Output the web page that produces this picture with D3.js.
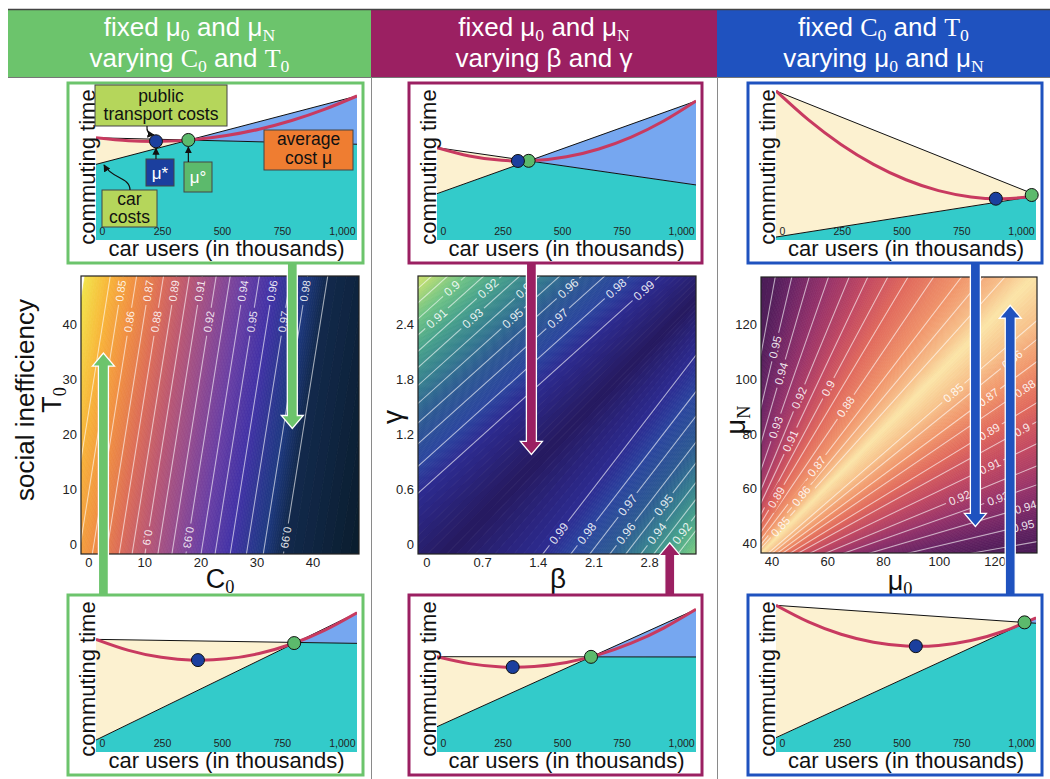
<!DOCTYPE html>
<html>
<head>
<meta charset="utf-8">
<script src="https://cdn.jsdelivr.net/npm/d3@7"></script>
<style>
  body { margin: 0; background: #fff; }
  text { font-family: "Liberation Sans", Arial, sans-serif; }
</style>
</head>
<body>
<div id="chart"></div>
<script>
// ---------- data ----------
var columnTitles = [
  ["fixed μ_0 and μ_N", "varying $C_0 and $T_0"],
  ["fixed μ_0 and μ_N", "varying β and γ"],
  ["fixed $C_0 and $T_0", "varying μ_0 and μ_N"]
];
var columnColors = ["#6cc46c", "#9b2062", "#1f52bf"];

// small "commuting time" panels: top row cols 1-3, then bottom row cols 1-3
var carUsers = [0, 136, 272, 408, 544, 680, 816, 952, 1088];   // thousands
var carTicks = [0, 250, 500, 750, 1000];
var publicCost = [[69.1, 64.7], [62.4, 37.2], [100.7, 30.4], [76.1, 73.4], [64.4, 64.2], [99.1, 87.0]];
var carCost = [[51.1, 97.3], [31.3, 93.9], [2.0, 29.7], [8.1, 94.1], [17.1, 96.4], [9.7, 90.7]];
var averageCost = [
  [69.1, 67.09, 66.66, 67.82, 70.55, 74.87, 80.76, 88.24, 97.3],
  [62.4, 56.73, 53.81, 53.64, 56.2, 61.51, 69.56, 80.36, 93.9],
  [100.7, 81.1, 64.58, 51.1, 40.7, 33.35, 29.08, 27.85, 29.7],
  [76.1, 68.65, 63.96, 62.06, 62.93, 66.56, 72.96, 82.15, 94.1],
  [64.4, 59.7, 57.49, 57.77, 60.53, 65.76, 73.49, 83.71, 96.4],
  [99.1, 87.86, 79.54, 74.13, 71.63, 72.03, 75.34, 81.57, 90.7]
];
var socialOptimum = [[250, 66.7], [340, 53.4], [920, 27.9], [425, 62.1], [318, 57.4], [585, 71.5]];
var userEquilibrium = [[385, 67.6], [385, 53.5], [1070, 30.4], [826, 73.6], [647, 64.3], [1040, 87.6]];

// heatmap 1: social inefficiency over (C0, T0); contour lines as C0 at T0=0 and T0=46
var c0T0Levels = [0.82, 0.84, 0.85, 0.86, 0.87, 0.88, 0.89, 0.90, 0.91, 0.92, 0.93, 0.94, 0.95, 0.96, 0.97, 0.98, 0.99, 1.00];
var c0AtT0Zero = [-8.0, -3.7, -1.4, 1.0, 3.5, 5.8, 8.1, 10.4, 12.7, 15.2, 17.7, 20.4, 22.9, 25.6, 28.5, 31.5, 35.1, 52.0];
var c0AtT0FortySix = [-1.0, 3.5, 5.8, 8.2, 10.7, 13.0, 15.3, 17.6, 19.9, 22.4, 24.9, 27.6, 30.1, 32.8, 35.7, 38.7, 42.3, 59.0];
var c0T0LabelAt = [[2, 46], [4, 46], [6, 46], [8, 46], [11, 46], [13, 46], [15, 46],
  [3, 40.4], [5, 40.4], [9, 40.4], [12, 40.4], [14, 40.4], [7, 1.2], [10, 1.2], [16, 1.2]];
var c0Ticks = [0, 10, 20, 30, 40], t0Ticks = [0, 10, 20, 30, 40];

// heatmap 2: (beta, gamma); contour lines as beta at gamma=0 and gamma=3
var betaGammaLevels = [0.86, 0.88, 0.89, 0.90, 0.91, 0.92, 0.93, 0.94, 0.95, 0.96, 0.97, 0.98, 0.99, 0.996,
  0.99, 0.98, 0.97, 0.96, 0.95, 0.94, 0.93, 0.92, 0.91, 0.89];
var betaAtGammaZero = [-4.102, -3.685, -3.484, -3.258, -3.031, -2.805, -2.578, -2.327, -2.075, -1.799, -1.509, -1.195, -0.817, 0.378,
  1.560, 1.912, 2.151, 2.403, 2.604, 2.793, 2.956, 3.107, 3.258, 3.535];
var betaAtGammaThree = [-0.260, 0.157, 0.358, 0.584, 0.811, 1.037, 1.264, 1.515, 1.767, 2.043, 2.333, 2.647, 3.025, 3.768,
  4.219, 4.571, 4.810, 5.062, 5.263, 5.452, 5.615, 5.766, 5.917, 6.194];
var betaGammaLabelAt = [[3, 2.795], [5, 2.795], [7, 2.795], [9, 2.795], [11, 2.795], [12, 2.773],
  [4, 2.467], [6, 2.467], [8, 2.467], [10, 2.467],
  [14, 0.117], [15, 0.117], [17, 0.117], [19, 0.117], [21, 0.117], [16, 0.426], [18, 0.426]];
var betaTicks = [0, 0.7, 1.4, 2.1, 2.8], gammaTicks = [0, 0.6, 1.2, 1.8, 2.4];

// heatmap 3: (mu0, muN); contour lines fan out from a common focus with slope muSlopes
var muFocus = [20, 20];
var muLevels = [0.97, 0.96, 0.95, 0.94, 0.93, 0.92, 0.91, 0.90, 0.89, 0.88, 0.87, 0.86, 0.85, 0.835,
  0.85, 0.86, 0.87, 0.88, 0.89, 0.90, 0.91, 0.92, 0.93, 0.94, 0.95, 0.96, 0.975];
var muSlopes = [0.08, 0.18, 0.24, 0.30, 0.36, 0.42, 0.49, 0.56, 0.62, 0.69, 0.75, 0.82, 0.88, 1.03,
  1.13, 1.22, 1.33, 1.50, 1.70, 1.90, 2.15, 2.45, 2.90, 3.50, 4.30, 5.50, 12.0];
var muLabelAt = [[2, 113.4], [3, 116], [4, 107.6], [5, 94.8], [6, 109.5], [7, 125.9], [8, 115.4], [9, 134.7],
  [10, 122.2], [11, 137.5], [12, 113.5], [14, 35], [15, 48.3], [16, 60.2], [17, 84], [18, 42.8], [19, 86.6],
  [20, 63.4], [21, 79], [22, 66], [23, 85.3], [24, 94.1]];
var mu0Ticks = [40, 60, 80, 100, 120], muNTicks = [40, 60, 80, 100, 120];

// parameter points shown in the small panels (arrows)
var topExample = [[36.4, 21.0], [1.32, 0.98], [113.1, 46.3]];
var bottomExample = [[2.7, 34.7], [3.06, 0.014], [125.6, 126.9]];

// colour ramps
var palette1Levels = [0.82, 0.84, 0.86, 0.88, 0.90, 0.92, 0.94, 0.96, 0.98, 0.99, 1.00];
var palette1Colors = ["#f2e34c", "#f8b53a", "#f08e42", "#db6c58", "#bb5872", "#954c8e", "#6a3fa4", "#4233a6", "#1f3a82", "#12294c", "#081a26"];
var palette2Levels = [0.86, 0.88, 0.90, 0.92, 0.94, 0.96, 0.98, 0.99, 0.996];
var palette2Colors = ["#e8e86c", "#b9dc74", "#6fc385", "#47a28b", "#357f8e", "#2c5a92", "#2b449e", "#2d2c92", "#26195e"];
var palette3Levels = [0.835, 0.85, 0.87, 0.89, 0.91, 0.93, 0.95, 0.97];
var palette3Colors = ["#fbe5a8", "#f7c08a", "#f0946a", "#e0685c", "#c24962", "#97336a", "#682465", "#3d1950"];

// ---------- layout ----------
var W = 1050, H = 779;
var SERIF = "'Liberation Serif', 'DejaVu Serif', serif";
var colLeft = [8, 371, 717], colRight = [371, 717, 1050];
var boxLeft = [68, 409, 748], boxRight = [363, 702, 1042];
var boxTop = [83, 595], boxH = 180;

var svg = d3.select("#chart").append("svg").attr("width", W).attr("height", H);
var defs = svg.append("defs");

function rich(t, str, size) {
  var shifted = false;
  str.split(/(_.|\$.)/).forEach(function (p) {
    if (!p) return;
    var s = t.append("tspan");
    if (p.length === 2 && p[0] === "_") {
      s.text(p[1]).attr("font-size", size * 0.68).attr("dy", size * 0.2).attr("font-family", SERIF);
      shifted = true;
      return;
    }
    if (p.length === 2 && p[0] === "$") s.text(p[1]).attr("font-family", SERIF);
    else s.text(p);
    if (shifted) { s.attr("dy", -size * 0.2); shifted = false; }
  });
}

// ---------- header ----------
columnColors.forEach(function (c, i) {
  svg.append("rect").attr("x", colLeft[i]).attr("y", 10).attr("width", colRight[i] - colLeft[i]).attr("height", 67).attr("fill", c);
  columnTitles[i].forEach(function (line, j) {
    var t = svg.append("text").attr("x", (colLeft[i] + colRight[i]) / 2).attr("y", 36 + j * 31)
      .attr("text-anchor", "middle").attr("fill", "#fff").attr("font-size", 26);
    rich(t, line, 26);
  });
});
svg.append("line").attr("x1", 8).attr("x2", W).attr("y1", 9.5).attr("y2", 9.5).attr("stroke", "#444").attr("stroke-width", 1.5);
svg.append("line").attr("x1", 8).attr("x2", W).attr("y1", 77.5).attr("y2", 77.5).attr("stroke", "#777");
[371.5, 717.5].forEach(function (x) {
  svg.append("line").attr("x1", x).attr("x2", x).attr("y1", 77).attr("y2", H).attr("stroke", "#8a8a8a");
});

svg.append("text").attr("transform", "translate(34,400) rotate(-90)").attr("text-anchor", "middle")
  .attr("font-size", 26).attr("fill", "#111").text("social inefficiency");

// ---------- heatmaps ----------
function heatmap(id, x, y, lines, ext, labels, color, labelSize) {
  var x0 = x.range()[0], x1 = x.range()[1], y0 = y.range()[1], y1 = y.range()[0];
  defs.append("clipPath").attr("id", "clip" + id).append("rect")
    .attr("x", x0).attr("y", y0).attr("width", x1 - x0).attr("height", y1 - y0);
  var g = svg.append("g").attr("clip-path", "url(#clip" + id + ")");
  var px = function (p) { return [x(p[0]), y(p[1])]; };
  var at = function (L, t) { return [L.a[0] + t * (L.b[0] - L.a[0]), L.a[1] + t * (L.b[1] - L.a[1])]; };
  var mix = function (p, q, f) { return [p[0] + f * (q[0] - p[0]), p[1] + f * (q[1] - p[1])]; };
  var K = 10;
  for (var i = 0; i < lines.length - 1; i++) {
    var A = lines[i], B = lines[i + 1];
    var a0 = px(at(A, ext[0])), a1 = px(at(A, ext[1])), b0 = px(at(B, ext[0])), b1 = px(at(B, ext[1]));
    for (var k = 0; k < K; k++) {
      var f = k / K, h = (k + 1) / K;
      var poly = [mix(a0, b0, f), mix(a1, b1, f), mix(a1, b1, h), mix(a0, b0, h)];
      var c = color(A.v + (B.v - A.v) * (k + 0.5) / K);
      g.append("path").attr("d", "M" + poly.join("L") + "Z").attr("fill", c).attr("stroke", c).attr("stroke-width", 0.8);
    }
  }
  var mask = defs.append("mask").attr("id", "mask" + id).attr("maskUnits", "userSpaceOnUse")
    .attr("x", 0).attr("y", 0).attr("width", W).attr("height", H);
  mask.append("rect").attr("width", W).attr("height", H).attr("fill", "#fff");
  var lg = g.append("g").attr("mask", "url(#mask" + id + ")");
  lines.forEach(function (L) {
    if (!L.show) return;
    var p = px(at(L, ext[0])), q = px(at(L, ext[1]));
    lg.append("line").attr("x1", p[0]).attr("y1", p[1]).attr("x2", q[0]).attr("y2", q[1])
      .attr("stroke", "#fff").attr("stroke-opacity", 0.6).attr("stroke-width", 1.1);
  });
  labels.forEach(function (lb) {
    var L = lines[lb.i], p = px(at(L, lb.t)), a = px(L.a), b = px(L.b);
    var ang = Math.atan2(b[1] - a[1], b[0] - a[0]) * 180 / Math.PI;
    if (ang > 90) ang -= 180;
    if (ang < -90) ang += 180;
    if (lb.flip) ang += 180;
    var txt = String(+L.v.toFixed(2));
    var tw = txt.length * labelSize * 0.53 + 5;
    var tr = "translate(" + p + ") rotate(" + ang + ")";
    mask.append("rect").attr("x", -tw / 2).attr("y", -labelSize * 0.55).attr("width", tw).attr("height", labelSize * 1.1)
      .attr("transform", tr).attr("fill", "#000");
    g.append("text").attr("transform", tr).attr("text-anchor", "middle").attr("dy", "0.35em")
      .attr("font-size", labelSize).attr("fill", "#fff").attr("fill-opacity", 0.88).text(txt);
  });
  svg.append("rect").attr("x", x0).attr("y", y0).attr("width", x1 - x0).attr("height", y1 - y0)
    .attr("fill", "none").attr("stroke", "#222").attr("stroke-width", 1.2);
}

function heatAxes(x, y, xt, yt, fmt) {
  var fam = "'Liberation Sans', Arial, sans-serif";
  svg.append("g").attr("transform", "translate(0," + y.range()[0] + ")")
    .call(d3.axisBottom(x).tickValues(xt).tickSize(0).tickPadding(4).tickFormat(fmt))
    .attr("font-size", 13).attr("font-family", fam)
    .call(function (g) { g.select(".domain").remove(); g.selectAll("text").attr("fill", "#222"); });
  svg.append("g").attr("transform", "translate(" + x.range()[0] + ",0)")
    .call(d3.axisLeft(y).tickValues(yt).tickSize(0).tickPadding(4).tickFormat(fmt))
    .attr("font-size", 13).attr("font-family", fam)
    .call(function (g) { g.select(".domain").remove(); g.selectAll("text").attr("fill", "#222"); });
}

var hx = [
  d3.scaleLinear().domain([-1.3, 48.3]).range([81, 359]),
  d3.scaleLinear().domain([-0.106, 3.39]).range([418, 696]),
  d3.scaleLinear().domain([36.2, 135.2]).range([761, 1037])
];
var hy = [
  d3.scaleLinear().domain([-1.8, 48.7]).range([554, 276]),
  d3.scaleLinear().domain([-0.109, 2.93]).range([554, 276]),
  d3.scaleLinear().domain([36.6, 137.2]).range([553, 277])
];
var col1 = d3.scaleLinear().domain(palette1Levels).range(palette1Colors).clamp(true);
var col2 = d3.scaleLinear().domain(palette2Levels).range(palette2Colors).clamp(true);
var col3 = d3.scaleLinear().domain(palette3Levels).range(palette3Colors).clamp(true);

var lines1 = c0T0Levels.map(function (v, i) {
  return { a: [c0AtT0Zero[i], 0], b: [c0AtT0FortySix[i], 46], v: v, show: i > 0 && i < c0T0Levels.length - 1 };
});
heatmap(1, hx[0], hy[0], lines1, [-0.6, 1.7],
  c0T0LabelAt.map(function (d) { return { i: d[0], t: d[1] / 46, flip: d[1] < 10 }; }), col1, 11);

var lines2 = betaGammaLevels.map(function (v, i) {
  return { a: [betaAtGammaZero[i], 0], b: [betaAtGammaThree[i], 3], v: v, show: i > 0 && i !== 13 && i < betaGammaLevels.length - 1 };
});
heatmap(2, hx[1], hy[1], lines2, [-0.5, 1.5],
  betaGammaLabelAt.map(function (d) { return { i: d[0], t: d[1] / 3 }; }), col2, 12);

var lines3 = muLevels.map(function (v, i) {
  return { a: muFocus, b: [muFocus[0] + 100, muFocus[1] + 100 * muSlopes[i]], v: v, show: i > 0 && i !== 13 && i < muLevels.length - 1 };
});
heatmap(3, hx[2], hy[2], lines3, [0, 3],
  muLabelAt.map(function (d) { return { i: d[0], t: d[1] / (100 * Math.sqrt(1 + muSlopes[d[0]] * muSlopes[d[0]])) }; }), col3, 11.5);

heatAxes(hx[0], hy[0], c0Ticks, t0Ticks, d3.format("d"));
heatAxes(hx[1], hy[1], betaTicks, gammaTicks, function (d) { return String(d); });
heatAxes(hx[2], hy[2], mu0Ticks, muNTicks, d3.format("d"));

function axisTitle(x, y, rot, str, size) {
  var t = svg.append("text").attr("transform", "translate(" + x + "," + y + ") rotate(" + rot + ")")
    .attr("text-anchor", "middle").attr("font-size", size).attr("font-family", SERIF).attr("fill", "#111");
  rich(t, str, size);
}
axisTitle(220, 588, 0, "C_0", 27);
axisTitle(61, 400, -90, "T_0", 27);
axisTitle(558, 588, 0, "β", 28);
axisTitle(402, 417, -90, "γ", 28);
axisTitle(900, 590, 0, "μ_0", 27);
axisTitle(745, 420, -90, "μ_N", 27);

// ---------- arrows linking heatmaps and small panels ----------
function bigArrow(x, y0, y1, color) {
  var dir = y1 > y0 ? 1 : -1, hl = 13, sw = 5, hw = 11, yb = y1 - dir * hl;
  var pts = [[x - sw, y0], [x + sw, y0], [x + sw, yb], [x + hw, yb], [x, y1], [x - hw, yb], [x - sw, yb]];
  svg.append("path").attr("d", "M" + pts.join("L") + "Z").attr("fill", color).attr("stroke", "#fff").attr("stroke-width", 1.3);
}
[0, 1, 2].forEach(function (c) {
  bigArrow(hx[c](topExample[c][0]), boxTop[0] + boxH, hy[c](topExample[c][1]), columnColors[c]);
  bigArrow(hx[c](bottomExample[c][0]), boxTop[1], hy[c](bottomExample[c][1]), columnColors[c]);
});

// ---------- small commuting-time panels ----------
defs.append("marker").attr("id", "ah").attr("viewBox", "0 0 10 10").attr("refX", 9).attr("refY", 5)
  .attr("markerWidth", 6).attr("markerHeight", 6).attr("orient", "auto")
  .append("path").attr("d", "M0,0L10,5L0,10Z").attr("fill", "#111");

var panelScales = [];
function miniPanel(i) {
  var c = i % 3, bl = boxLeft[c], br = boxRight[c], bt = boxTop[Math.floor(i / 3)];
  var nMax = carUsers[carUsers.length - 1];
  var x = d3.scaleLinear().domain([0, nMax]).range([bl + 28, br - 6]);
  var y = d3.scaleLinear().domain([0, 100]).range([bt + 157, bt + 9]);
  panelScales[i] = { x: x, y: y };
  var pub = d3.scaleLinear().domain([0, nMax]).range(publicCost[i]);
  var car = d3.scaleLinear().domain([0, nMax]).range(carCost[i]);
  var d0 = car(0) - pub(0), d1 = car(nMax) - pub(nMax);
  var nx = d0 * d1 < 0 ? nMax * d0 / (d0 - d1) : nMax;
  var lo = function (n) { return Math.min(pub(n), car(n)); };
  var hi = function (n) { return Math.max(pub(n), car(n)); };

  defs.append("clipPath").attr("id", "mclip" + i).append("rect")
    .attr("x", bl + 28).attr("y", bt + 4).attr("width", br - bl - 34).attr("height", 153);
  var g = svg.append("g").attr("clip-path", "url(#mclip" + i + ")");

  g.append("path").datum([0, nx, nMax])
    .attr("d", d3.area().x(function (n) { return x(n); }).y0(y(0)).y1(function (n) { return y(lo(n)); }))
    .attr("fill", "#33cbca");
  [[0, nx], [nx, nMax]].forEach(function (seg) {
    if (seg[1] - seg[0] < 1e-6) return;
    var mid = (seg[0] + seg[1]) / 2;
    g.append("path").datum(seg)
      .attr("d", d3.area().x(function (n) { return x(n); }).y0(function (n) { return y(lo(n)); }).y1(function (n) { return y(hi(n)); }))
      .attr("fill", car(mid) < pub(mid) ? "#fcf1d0" : "#76a7f0");
  });
  [pub, car].forEach(function (f) {
    g.append("line").attr("x1", x(0)).attr("y1", y(f(0))).attr("x2", x(nMax)).attr("y2", y(f(nMax)))
      .attr("stroke", "#111").attr("stroke-width", 1);
  });
  g.append("path").datum(averageCost[i])
    .attr("d", d3.line().curve(d3.curveNatural).x(function (d, k) { return x(carUsers[k]); }).y(function (d) { return y(d); }))
    .attr("fill", "none").attr("stroke", "#c83a60").attr("stroke-width", 3);
  [[userEquilibrium[i], "#5cba6c"], [socialOptimum[i], "#1b3f9e"]].forEach(function (d) {
    svg.append("circle").attr("cx", x(d[0][0])).attr("cy", y(d[0][1])).attr("r", 6.5)
      .attr("fill", d[1]).attr("stroke", "#111").attr("stroke-width", 1);
  });

  svg.append("g").attr("transform", "translate(6," + (bt + 145) + ")")
    .call(d3.axisBottom(x).tickValues(carTicks).tickSize(0).tickPadding(0).tickFormat(d3.format(",")))
    .attr("font-size", 10.5).attr("font-family", "'Liberation Sans', Arial, sans-serif")
    .call(function (a) { a.select(".domain").remove(); a.selectAll("text").attr("fill", "#222"); });

  svg.append("text").attr("transform", "translate(" + (bl + 19) + "," + (bt + 84) + ") rotate(-90)")
    .attr("text-anchor", "middle").attr("dy", "0.35em").attr("font-size", 22).attr("fill", "#111").text("commuting time");
  svg.append("text").attr("x", (bl + 28 + br - 6) / 2).attr("y", bt + 173)
    .attr("text-anchor", "middle").attr("font-size", 22).attr("fill", "#111").text("car users (in thousands)");
  svg.append("rect").attr("x", bl).attr("y", bt).attr("width", br - bl).attr("height", boxH)
    .attr("fill", "none").attr("stroke", columnColors[c]).attr("stroke-width", 3);
}
for (var p = 0; p < 6; p++) miniPanel(p);

// ---------- annotations of the first panel ----------
(function () {
  var ox = boxLeft[0], oy = boxTop[0], s = panelScales[0];
  function note(x, y, w, h, fill, lines, color, size) {
    svg.append("rect").attr("x", ox + x).attr("y", oy + y).attr("width", w).attr("height", h)
      .attr("fill", fill).attr("stroke", "#444").attr("stroke-width", 1);
    lines.forEach(function (l) {
      svg.append("text").attr("x", ox + x + w / 2).attr("y", oy + l[1]).attr("text-anchor", "middle")
        .attr("font-size", size).attr("fill", color).text(l[0]);
    });
  }
  note(27, 2, 132, 41, "#b5d65b", [["public", 19], ["transport costs", 36.5]], "#111", 17.5);
  note(34, 107, 55, 37, "#b5d65b", [["car", 122], ["costs", 139.5]], "#111", 17.5);
  note(196, 47, 89, 40, "#ef7d31", [["average", 62], ["cost μ", 80.5]], "#111", 17.5);
  note(78, 76, 28, 27, "#1b3f9e", [["μ*", 96]], "#fff", 17);
  note(116, 79, 28, 30, "#5cba6c", [["μ°", 100]], "#fff", 17);

  svg.append("path").attr("d", "M" + (ox + 79) + "," + (oy + 43) + " Q" + (ox + 78) + "," + (oy + 51) + " " + (ox + 86) + "," + (oy + 52))
    .attr("fill", "none").attr("stroke", "#111").attr("stroke-width", 1.2).attr("marker-end", "url(#ah)");
  svg.append("path").attr("d", "M" + (ox + 62) + "," + (oy + 107) + " C" + (ox + 62) + "," + (oy + 94) + " " + (ox + 44) + "," + (oy + 96) + " " + (ox + 36) + "," + (oy + 82))
    .attr("fill", "none").attr("stroke", "#111").attr("stroke-width", 1.2).attr("marker-end", "url(#ah)");
  var xo = s.x(socialOptimum[0][0]), yo = s.y(socialOptimum[0][1]);
  svg.append("line").attr("x1", xo).attr("x2", xo).attr("y1", oy + 76).attr("y2", yo + 7)
    .attr("stroke", "#111").attr("stroke-width", 1.2).attr("marker-end", "url(#ah)");
  var xe = s.x(userEquilibrium[0][0]), ye = s.y(userEquilibrium[0][1]);
  svg.append("line").attr("x1", xe).attr("x2", xe).attr("y1", oy + 79).attr("y2", ye + 7)
    .attr("stroke", "#111").attr("stroke-width", 1.2).attr("marker-end", "url(#ah)");
})();
</script>
</body>
</html>
